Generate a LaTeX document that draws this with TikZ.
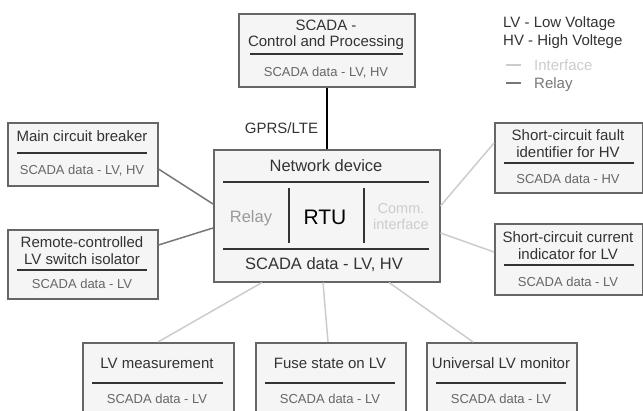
\documentclass[tikz,border=0pt]{standalone}
\usepackage{fontspec}
\setmainfont{Liberation Sans}
\usetikzlibrary{calc}

\definecolor{boxfill}{HTML}{F5F5F5}
\definecolor{boxline}{HTML}{666666}
\definecolor{txtdark}{HTML}{333333}
\definecolor{txtgrey}{HTML}{666666}
\definecolor{relaycol}{HTML}{777777}
\definecolor{ifacecol}{HTML}{CCCCCC}
\definecolor{relaytxt}{HTML}{999999}

\begin{document}
\begin{tikzpicture}[x=1pt,y=-1pt,
  box/.style={draw=boxline, fill=boxfill, line width=1.5pt, rectangle,
    inner sep=0pt, anchor=north west},
  ttl/.style={font=\fontsize{15}{17}\selectfont, text=txtdark,
    anchor=base, yshift=-5.3pt, inner sep=0pt},
  sub/.style={font=\fontsize{13}{15}\selectfont, text=txtgrey,
    anchor=base, yshift=-4.6pt, inner sep=0pt},
  big/.style={font=\fontsize{16.5}{19}\selectfont, text=txtdark,
    anchor=base, yshift=-5.9pt, inner sep=0pt},
  divider/.style={draw=txtdark, line width=1.6pt},
  relay/.style={draw=relaycol, line width=1.5pt},
  iface/.style={draw=ifacecol, line width=1.5pt},
  uplink/.style={draw=black, line width=1.5pt},
  legend/.style={font=\fontsize{15}{17}\selectfont, anchor=base west,
    yshift=-5.3pt, inner sep=0pt}]
\useasboundingbox (0,0) rectangle (643,410);
\clip (0,0) rectangle (643,410);

% ---------- SCADA control centre ----------
\node[box, minimum width=176pt, minimum height=73pt] (scada) at (238,13) {};
\node[ttl] (scadaT1) at (326,25) {SCADA -};
\node[ttl] (scadaT2) at (326,41) {Control and Processing};
\draw[divider] (250,54) -- (403,54);
\node[sub] (scadaS) at (326,72) {SCADA data - LV, HV};

% ---------- legend ----------
\node[legend, text=txtdark] (lgLV) at (503,22) {LV - Low Voltage};
\node[legend, text=txtdark] (lgHV) at (503,40) {HV - High Voltege};
\node[legend, text=ifacecol] (lgIf) at (534,65) {Interface};
\node[legend, text=relaycol] (lgRe) at (534,83) {Relay};
\draw[iface] (506,65) -- (521,65);
\draw[relay] (506,83) -- (521,83);

% ---------- network device ----------
\node[box, minimum width=226pt, minimum height=132pt] (net) at (213,149) {};
\node[big] (netT) at (326,166) {Network device};
\draw[divider] (223,182) -- (429,182);
\draw[divider] (289,188) -- (289,243);
\draw[divider] (364,188) -- (364,243);
\draw[divider] (223,249) -- (429,249);
\node[big, text=relaytxt] (netRelay) at (251,217) {Relay};
\node[font=\fontsize{21}{24}\selectfont, text=black, anchor=base,
  yshift=-7.6pt, inner sep=0pt] (netRTU) at (325,217) {RTU};
\node[font=\fontsize{14.5}{16}\selectfont, text=ifacecol, anchor=base,
  yshift=-5.1pt, inner sep=0pt] (netC1) at (401,208) {Comm.};
\node[font=\fontsize{14.5}{16}\selectfont, text=ifacecol, anchor=base,
  yshift=-5.1pt, inner sep=0pt] (netC2) at (401,224) {interface};
\node[big] (netS) at (324,264) {SCADA data - LV, HV};

% ---------- left devices ----------
\node[box, minimum width=150pt, minimum height=63pt] (mcb) at (7,122) {};
\node[ttl] (mcbT) at (82,136) {Main circuit breaker};
\draw[divider] (17,153) -- (147,153);
\node[sub] (mcbS) at (82,170) {SCADA data - LV, HV};

\node[box, minimum width=150pt, minimum height=69pt] (rcs) at (7,229) {};
\node[ttl] (rcsT1) at (82,242) {Remote-controlled};
\node[ttl] (rcsT2) at (82,259) {LV switch isolator};
\draw[divider] (17,270) -- (147,270);
\node[sub] (rcsS) at (82,284) {SCADA data - LV};

% ---------- right devices ----------
\node[box, minimum width=148pt, minimum height=70pt] (scf) at (494,122) {};
\node[ttl] (scfT1) at (568,135) {Short-circuit fault};
\node[ttl] (scfT2) at (568,152) {identifier for HV};
\draw[divider] (504,163) -- (634,163);
\node[sub] (scfS) at (568,179) {SCADA data - HV};

\node[box, minimum width=148pt, minimum height=71pt] (sci) at (494,223) {};
\node[ttl] (sciT1) at (568,237) {Short-circuit current};
\node[ttl] (sciT2) at (568,254) {indicator for LV};
\draw[divider] (504,265) -- (634,265);
\node[sub] (sciS) at (568,282) {SCADA data - LV};

% ---------- bottom devices ----------
\node[box, minimum width=151pt, minimum height=72pt] (lvm) at (82,342) {};
\node[ttl] (lvmT) at (157,363) {LV measurement};
\draw[divider] (92,383) -- (223,383);
\node[sub] (lvmS) at (157,399) {SCADA data - LV};

\node[box, minimum width=150pt, minimum height=72pt] (fus) at (255,342) {};
\node[ttl] (fusT) at (330,363) {Fuse state on LV};
\draw[divider] (265,383) -- (395,383);
\node[sub] (fusS) at (330,399) {SCADA data - LV};

\node[box, minimum width=150pt, minimum height=72pt] (ulm) at (426,342) {};
\node[ttl] (ulmT) at (501,363) {Universal LV monitor};
\draw[divider] (436,383) -- (566,383);
\node[sub] (ulmS) at (501,399) {SCADA data - LV};

% ---------- connectors ----------
\draw[uplink] (scada.south) -- node[ttl, anchor=base east, xshift=-8pt,
  yshift=-5.3pt, pos=0.58] (gprs) {GPRS/LTE} (net.north);

\draw[relay] ([yshift=-47pt]mcb.north east) -- ([yshift=-55pt]net.north west);
\draw[relay] ([yshift=-16pt]rcs.north east) -- ([yshift=-79pt]net.north west);

\draw[iface] ([yshift=-57pt]net.north east) -- ([yshift=-21pt]scf.north west);
\draw[iface] ([yshift=-84pt]net.north east) -- ([yshift=-29pt]sci.north west);

\draw[iface] ([xshift=49pt]net.south west) -- ([xshift=76pt]lvm.north west);
\draw[iface] ([xshift=110pt]net.south west) -- ([xshift=73pt]fus.north west);
\draw[iface] ([xshift=176pt]net.south west) -- ([xshift=47pt]ulm.north west);
\end{tikzpicture}
\end{document}
